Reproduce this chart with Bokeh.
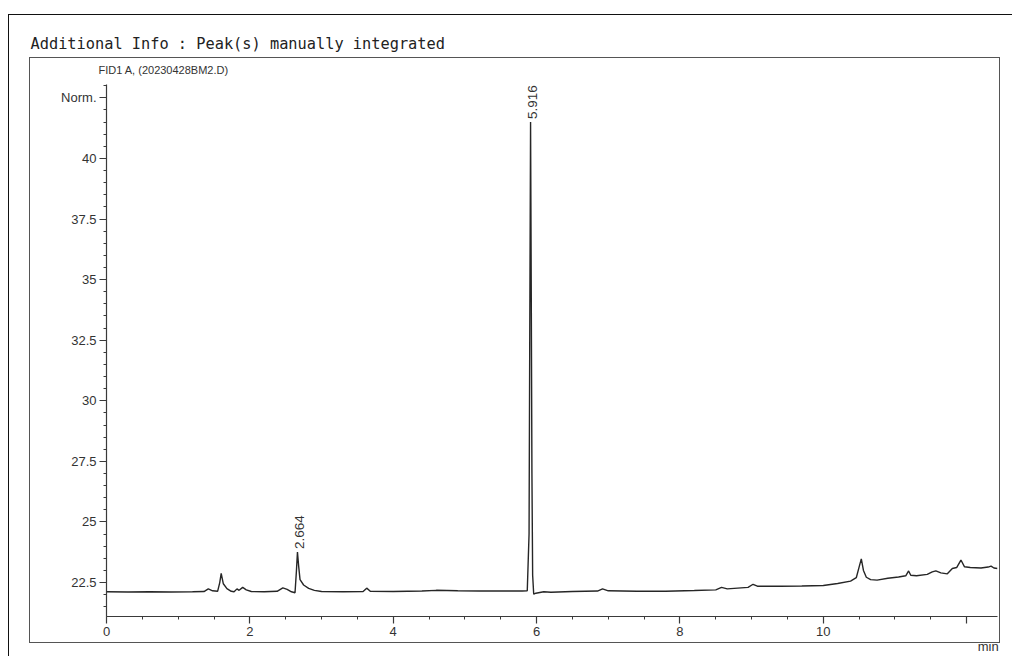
from bokeh.plotting import figure
from bokeh.models import (Range1d, FixedTicker, Label, Title, LinearAxis, InlineStyleSheet)
from bokeh.embed import file_html
from bokeh.resources import INLINE
import numpy as np

# ---- data ----
time = [0.00, 0.30, 0.60, 0.90, 1.20, 1.36, 1.42, 1.48, 1.55, 1.58, 1.60, 1.63, 1.68, 1.74,
        1.78, 1.82, 1.85, 1.90, 1.95, 2.02, 2.20, 2.38, 2.46, 2.52, 2.58, 2.63, 2.650, 2.664,
        2.680, 2.70, 2.75, 2.82, 2.90, 3.00, 3.30, 3.58, 3.63, 3.68, 4.00, 4.40, 4.60, 4.90,
        5.20, 5.50, 5.80, 5.87, 5.895, 5.905, 5.916, 5.925, 5.935, 5.945, 5.96, 5.99, 6.10,
        6.20, 6.50, 6.85, 6.92, 7.00, 7.40, 7.80, 8.20, 8.50, 8.58, 8.66, 8.95, 9.02, 9.08,
        9.40, 9.70, 10.00, 10.20, 10.38, 10.46, 10.50, 10.53, 10.56, 10.60, 10.66, 10.75,
        10.90, 11.05, 11.15, 11.19, 11.22, 11.30, 11.45, 11.52, 11.57, 11.64, 11.73, 11.80,
        11.86, 11.92, 11.97, 12.05, 12.20, 12.30, 12.34, 12.38, 12.43]
signal = [22.12, 22.11, 22.12, 22.11, 22.12, 22.13, 22.24, 22.16, 22.14, 22.50, 22.88, 22.45,
          22.25, 22.14, 22.12, 22.24, 22.18, 22.30, 22.20, 22.13, 22.12, 22.14, 22.28, 22.22,
          22.12, 22.08, 23.00, 23.76, 23.20, 22.62, 22.40, 22.26, 22.18, 22.13, 22.12, 22.13,
          22.27, 22.14, 22.13, 22.15, 22.18, 22.16, 22.15, 22.15, 22.15, 22.16, 24.50, 33.00,
          41.50, 35.00, 27.00, 22.80, 22.02, 22.06, 22.12, 22.10, 22.13, 22.15, 22.24, 22.16,
          22.14, 22.14, 22.17, 22.20, 22.30, 22.24, 22.30, 22.43, 22.35, 22.35, 22.36, 22.38,
          22.46, 22.56, 22.70, 23.15, 23.48, 23.00, 22.72, 22.62, 22.60, 22.68, 22.73, 22.78,
          22.98, 22.80, 22.78, 22.84, 22.94, 22.98, 22.90, 22.86, 23.08, 23.12, 23.43, 23.15,
          23.12, 23.10, 23.14, 23.18, 23.10, 23.08]

peak_rt = [2.664, 5.916]
peak_height = [23.76, 41.50]
peak_text = ["2.664", "5.916"]

x_ticks = [0, 2, 4, 6, 8, 10, 12]
x_tick_labels = ["0", "2", "4", "6", "8", "10", ""]
y_ticks = [22.5, 25, 27.5, 30, 32.5, 35, 37.5, 40, 42.5]
y_tick_labels = ["22.5", "25", "27.5", "30", "32.5", "35", "37.5", "40", "Norm."]

header_text = "Additional Info : Peak(s) manually integrated"
signal_text = "FID1 A, (20230428BM2.D)"
x_unit = "min"
x_unit_pos = 12.3

# ---- figure (canvas sits at page 0,0) ----
W, H = 1012, 656
FL, FR, FT, FB = 106, 997, 84, 617   # frame edges in page pixels
tick_font = "Liberation Sans"

p = figure(width=W, height=H, output_backend="svg", toolbar_location=None,
           x_range=Range1d(0, 12.43), y_range=Range1d(21.1, 43.05),
           min_border_left=FL, min_border_right=W - FR, min_border_top=FT,
           min_border_bottom=H - FB)
p.grid.visible = False
p.outline_line_color = None
p.background_fill_color = "white"
p.border_fill_color = "white"

# titles above the frame (the later one sits closest to the frame)
p.title.text = header_text
p.title.align = "left"
p.title.offset = -76
p.title.standoff = 0
p.title.text_font = "DejaVu Sans Mono"
p.title.text_font_size = "15.3px"
p.title.text_font_style = "normal"
p.title.text_color = "#222222"
p.add_layout(Title(text=signal_text, align="left", offset=-8, standoff=18,
                   text_font=tick_font, text_font_size="11px",
                   text_font_style="normal", text_color="#333333"), "above")

for ax in (p.xaxis[0], p.yaxis[0]):
    ax.axis_line_color = "#3a3a3a"
    ax.axis_line_width = 1.2
    ax.major_tick_line_color = "#3a3a3a"
    ax.minor_tick_line_color = "#3a3a3a"
    ax.major_tick_line_width = 1.2
    ax.minor_tick_line_width = 1.0
    ax.major_tick_in = 0
    ax.major_tick_out = 7
    ax.minor_tick_in = 0
    ax.minor_tick_out = 3
    ax.major_label_text_font = tick_font
    ax.major_label_text_font_size = "13px"
    ax.major_label_text_color = "#333333"
    ax.major_label_standoff = 3

p.xaxis[0].ticker = FixedTicker(ticks=x_ticks, minor_ticks=list(np.arange(0, 12.5, 0.5)))
p.xaxis[0].major_label_overrides = {float(t): s for t, s in zip(x_ticks, x_tick_labels)}
p.yaxis[0].ticker = FixedTicker(ticks=y_ticks, minor_ticks=list(np.arange(21.5, 43.1, 0.5)))
p.yaxis[0].major_label_overrides = {float(t): s for t, s in zip(y_ticks, y_tick_labels)}

# unit label "min" at the end of the time axis
unit_axis = LinearAxis(ticker=FixedTicker(ticks=[x_unit_pos]),
                       major_label_overrides={x_unit_pos: x_unit},
                       axis_line_color=None, major_tick_line_color=None,
                       minor_tick_line_color=None, major_tick_out=0, major_tick_in=0,
                       major_label_standoff=0, major_label_text_font=tick_font,
                       major_label_text_font_size="13px", major_label_text_color="#333333")
p.add_layout(unit_axis, "below")

p.line(time, signal, line_color="#262626", line_width=1.4)

for rt, h, s in zip(peak_rt, peak_height, peak_text):
    p.add_layout(Label(x=rt, y=h, text=s, angle=np.pi / 2, text_align="left",
                       text_baseline="middle", x_offset=2, y_offset=3,
                       text_font=tick_font, text_font_size="13.5px", text_color="#333333"))

# the two printed frames (outer page frame and chart box)
css = f"""
:host {{ position: relative; }}
:host::before {{ content: ""; position: absolute; left: 8px; top: 14px;
  width: {W - 8}px; height: {H - 14}px; box-sizing: border-box;
  border-left: 1.6px solid #111; border-top: 1.6px solid #111;
  pointer-events: none; z-index: 5; }}
:host::after {{ content: ""; position: absolute; left: 29px; top: 57px;
  width: 971px; height: 586px; box-sizing: border-box;
  border: 1.3px solid #555; pointer-events: none; z-index: 5; }}
"""
p.stylesheets = [InlineStyleSheet(css=css)]

open("out.html", "w").write(file_html(p, INLINE))
